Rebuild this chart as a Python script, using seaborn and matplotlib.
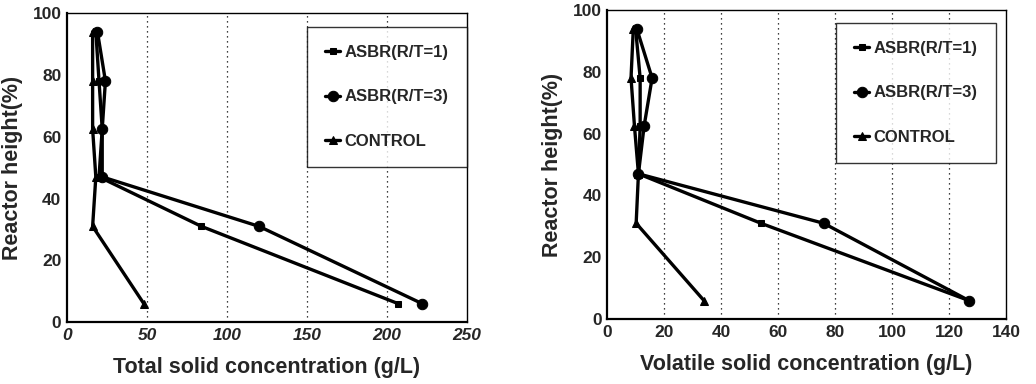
import pandas as pd
import numpy as np
import matplotlib.pyplot as plt
import seaborn as sns

# Data
height = [6, 31, 47, 62.5, 78, 94]
series = ["ASBR(R/T=1)", "ASBR(R/T=3)", "CONTROL"]

ts_rt1 = [207, 84, 20, 22, 20, 18]
ts_rt3 = [222, 120, 22, 22, 24, 19]
ts_control = [48, 16, 18, 16, 16, 16]

vs_rt1 = [127, 54, 11, 11.6, 11.6, 10]
vs_rt3 = [127, 76, 11, 13, 15.8, 10.4]
vs_control = [34, 10.2, 11, 9.6, 8.4, 9.2]

ts_xticks = [0, 50, 100, 150, 200, 250]
vs_xticks = [0, 20, 40, 60, 80, 100, 120, 140]
yticks = [0, 20, 40, 60, 80, 100]

def make_df(vals):
    rows = []
    for name, v in zip(series, vals):
        for h, x in zip(height, v):
            rows.append({"Series": name, "Conc": x, "Height": h})
    return pd.DataFrame(rows)

ts_df = make_df([ts_rt1, ts_rt3, ts_control])
vs_df = make_df([vs_rt1, vs_rt3, vs_control])

sns.set_style("white")
plt.rcParams['font.family'] = ['Liberation Sans', 'DejaVu Sans']

fig = plt.figure(figsize=(10.36, 3.84), dpi=100)
ax1 = fig.add_axes([0.0647, 0.161, 0.386, 0.805])
ax2 = fig.add_axes([0.586, 0.169, 0.385, 0.805])

markers = {"ASBR(R/T=1)": "s", "ASBR(R/T=3)": "o", "CONTROL": "^"}
sizes = {"ASBR(R/T=1)": 5, "ASBR(R/T=3)": 7.5, "CONTROL": 6}

def draw(ax, df, xticks, xlabel, italic, leg_anchor):
    for name in series:
        sub = df[df["Series"] == name]
        sns.lineplot(data=sub, x="Conc", y="Height", sort=False, ax=ax,
                     color="black", lw=2.4, marker=markers[name],
                     markersize=sizes[name], markeredgecolor="black",
                     label=name, estimator=None)
    ax.set_xlim(xticks[0], xticks[-1])
    ax.set_ylim(0, 100)
    ax.set_xticks(xticks)
    ax.set_yticks(yticks)
    ax.set_xticklabels([str(t) for t in xticks], fontweight="bold",
                       fontsize=12.5, style="italic" if italic else "normal")
    ax.set_yticklabels([str(t) for t in yticks], fontweight="bold", fontsize=12.5)
    for t in xticks[1:-1]:
        ax.axvline(t, color="black", lw=0.9, ls=(0, (1, 3)), zorder=0)
    ax.set_xlabel(xlabel, fontsize=15.5, fontweight="bold", labelpad=10)
    ax.set_ylabel("Reactor height(%)", fontsize=15.5, fontweight="bold", labelpad=7)
    for side in ["left", "bottom"]:
        ax.spines[side].set_linewidth(1.6)
    for side in ["top", "right"]:
        ax.spines[side].set_linewidth(1.0)
    for s in ax.spines.values():
        s.set_color("black")
    ax.tick_params(axis="both", length=0, pad=4)
    leg = ax.legend(loc="upper right", bbox_to_anchor=leg_anchor,
                    borderaxespad=0, frameon=True, fancybox=False,
                    edgecolor="black", handlelength=0.9, handletextpad=0.25,
                    labelspacing=1.75, borderpad=1.1,
                    prop={"weight": "bold", "size": 12})
    leg.get_frame().set_linewidth(1.0)

draw(ax1, ts_df, ts_xticks, "Total solid concentration (g/L)", True, (1.0, 0.955))
draw(ax2, vs_df, vs_xticks, "Volatile solid concentration (g/L)", False, (0.975, 0.958))

plt.savefig("out.png", dpi=100)
